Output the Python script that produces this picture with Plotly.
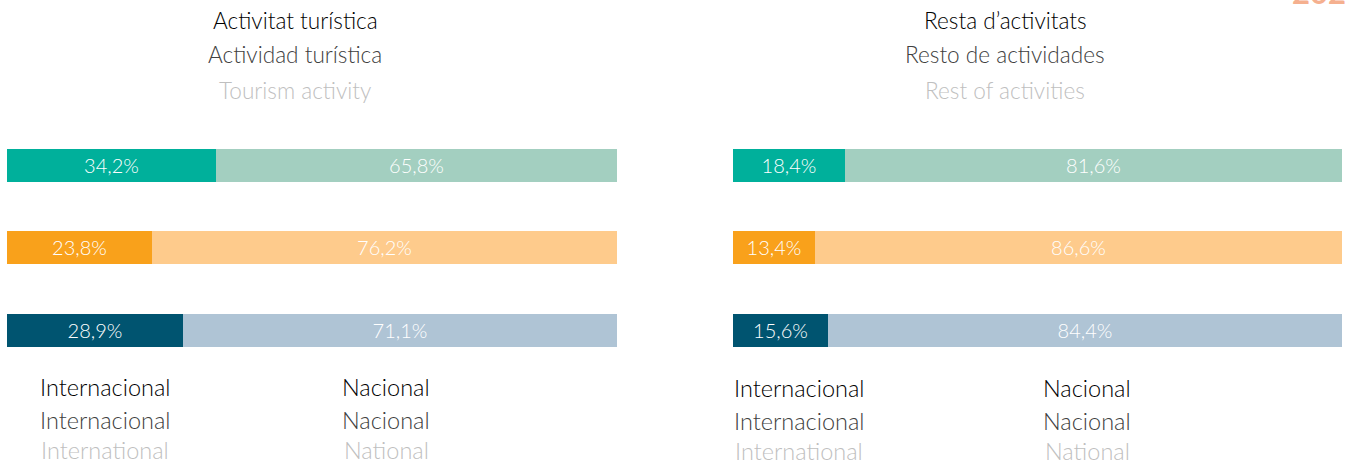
import plotly.graph_objects as go

W, H = 1349, 464

# Data
rows = [0, 1, 2]
tourism_int = [34.2, 23.8, 28.9]
tourism_nat = [65.8, 76.2, 71.1]
rest_int = [18.4, 13.4, 15.6]
rest_nat = [81.6, 86.6, 84.4]

strong_colors = ["#00B09B", "#F9A11B", "#005470"]
light_colors = ["#A3CFC0", "#FECB8C", "#AFC4D5"]

panel_titles = {
    "left": ["Activitat turística", "Actividad turística", "Tourism activity"],
    "right": ["Resta d\u2019activitats", "Resto de actividades", "Rest of activities"],
}
legend_int = ["Internacional", "Internacional", "International"]
legend_nat = ["Nacional", "Nacional", "National"]
year_label = "2021"

title_colors = ["#000000", "#404040", "#BFBFBF"]
FONT = "Lato"


def fmt(v):
    return f"{v:.1f}%".replace(".", ",")


def px(x):
    return x / W


def py(y):
    return 1 - y / H


fig = go.Figure()

for vals_int, vals_nat, xa, ya in [
    (tourism_int, tourism_nat, "x", "y"),
    (rest_int, rest_nat, "x2", "y2"),
]:
    for vals, cols in [(vals_int, strong_colors), (vals_nat, light_colors)]:
        fig.add_trace(go.Bar(
            y=rows, x=vals, orientation="h", xaxis=xa, yaxis=ya,
            marker=dict(color=cols, line=dict(width=0)),
            text=[fmt(v) for v in vals], textposition="inside",
            insidetextanchor="middle",
            textfont=dict(color="white", size=20, family=FONT, weight=300),
            width=0.4, showlegend=False, hoverinfo="skip",
        ))

ydom = [py(371.25), py(123.75)]
axis_common = dict(visible=False, showgrid=False, zeroline=False, fixedrange=True)
fig.update_layout(
    width=W, height=H,
    margin=dict(l=0, r=0, t=0, b=0),
    paper_bgcolor="white", plot_bgcolor="white",
    barmode="stack", bargap=0,
    uniformtext=dict(mode="show", minsize=10),
    xaxis=dict(domain=[px(7), px(617)], range=[0, 100], **axis_common),
    xaxis2=dict(domain=[px(733), px(1342)], range=[0, 100], **axis_common),
    yaxis=dict(domain=ydom, range=[2.5, -0.5], **axis_common),
    yaxis2=dict(domain=ydom, range=[2.5, -0.5], anchor="x2", **axis_common),
    font=dict(family=FONT),
)

annotations = []
# Panel titles
for cx, key in [(295, "left"), (1005, "right")]:
    for i, (yy, txt) in enumerate(zip([20, 55, 90], panel_titles[key])):
        annotations.append(dict(
            x=px(cx), y=py(yy), xref="paper", yref="paper",
            text=txt, showarrow=False, xanchor="center", yanchor="middle",
            font=dict(size=22.6, color=title_colors[i], family=FONT, weight=300),
        ))

# Bottom labels
for cx, ys, labels in [
    (105, [387, 420, 450], legend_int),
    (386, [387, 420, 450], legend_nat),
    (799, [388, 421, 451], legend_int),
    (1087, [388, 421, 451], legend_nat),
]:
    for i, (yy, txt) in enumerate(zip(ys, labels)):
        annotations.append(dict(
            x=px(cx), y=py(yy), xref="paper", yref="paper",
            text=txt, showarrow=False, xanchor="center", yanchor="middle",
            font=dict(size=23.5, color=title_colors[i], family=FONT, weight=300),
        ))

# Partially visible year label at top right
annotations.append(dict(
    x=px(1328), y=py(-8), xref="paper", yref="paper",
    text=f"<b>{year_label}</b>", showarrow=False, xanchor="center", yanchor="middle",
    font=dict(size=31, color="#F5B08F", family=FONT),
))

fig.update_layout(annotations=annotations)

fig.write_html("out.html", config={"displayModeBar": False},
               post_script="document.body.style.margin='0';")
